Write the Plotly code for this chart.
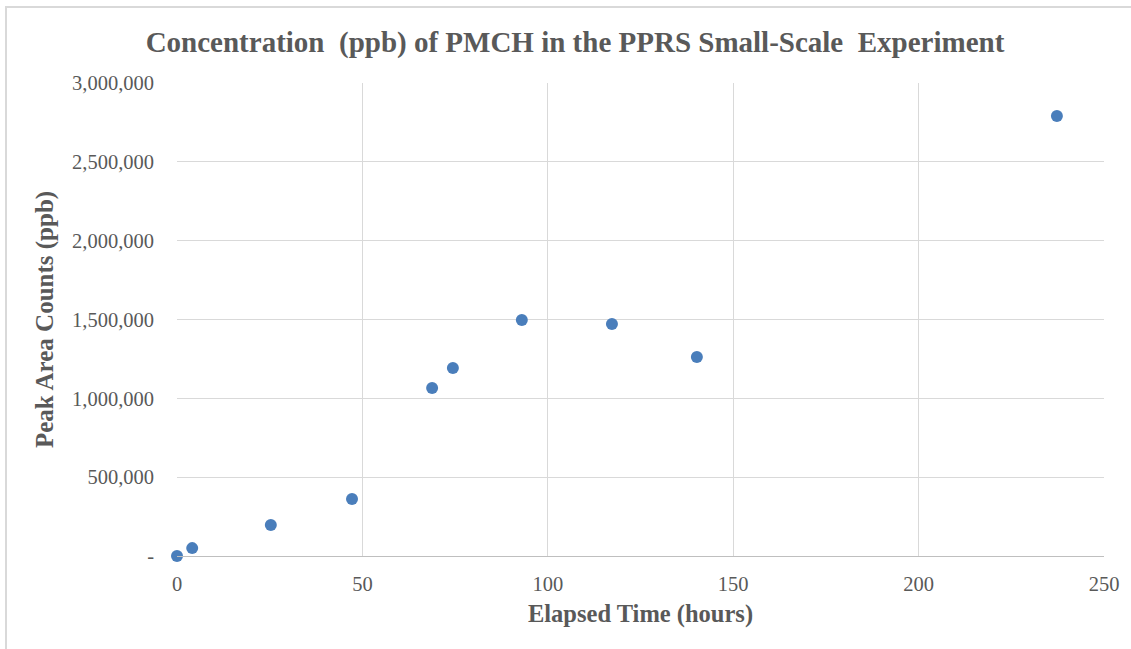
import plotly.graph_objects as go

elapsed_hours = [0, 4.1, 25.3, 47.2, 68.8, 74.4, 93.0, 117.3, 140.2, 237.3]
peak_counts = [0, 50000, 196000, 361000, 1065000, 1192000, 1497000, 1471000, 1262000, 2790000]

y_tick_vals = [0, 500000, 1000000, 1500000, 2000000, 2500000, 3000000]
y_tick_text = ["-", "500,000", "1,000,000", "1,500,000", "2,000,000", "2,500,000", "3,000,000"]
x_tick_vals = [0, 50, 100, 150, 200, 250]

FONT = "Liberation Serif"
GRAY = "#595959"

fig = go.Figure()
fig.add_trace(go.Scatter(
    x=elapsed_hours, y=peak_counts, mode="markers",
    marker=dict(color="#4A7EBB", size=12),
    cliponaxis=False, showlegend=False,
))

W, H = 1131, 649
L, R, T, B = 177, 27, 83, 93
pw, ph = W - L - R, H - T - B

fig.update_layout(
    width=W, height=H,
    margin=dict(l=L, r=R, t=T, b=B),
    paper_bgcolor="white", plot_bgcolor="white",
    font=dict(family=FONT, color=GRAY, size=20),
    title=dict(
        text="<b>Concentration\u00a0 (ppb) of PMCH in the PPRS Small-Scale\u00a0 Experiment</b>",
        x=575 / W, xref="container", xanchor="center",
        y=1 - 42 / H, yref="container", yanchor="middle",
        font=dict(size=29, color=GRAY, family=FONT),
    ),
    xaxis=dict(
        range=[0, 250], tickvals=x_tick_vals,
        showgrid=True, gridcolor="#d9d9d9", gridwidth=1,
        showline=True, linecolor="#bfbfbf", linewidth=1,
        zeroline=False, ticks="", ticklabelstandoff=9,
        title=dict(text="<b>Elapsed Time (hours)</b>", font=dict(size=24.5, color=GRAY, family=FONT), standoff=11),
        tickfont=dict(size=20.5, color=GRAY, family=FONT),
    ),
    yaxis=dict(
        range=[0, 3000000], tickvals=y_tick_vals, ticktext=y_tick_text,
        showgrid=True, gridcolor="#d9d9d9", gridwidth=1,
        showline=False, zeroline=False, ticks="", ticklabelstandoff=22,
        title=dict(text="<b>Peak Area Counts (ppb)</b>", font=dict(size=25, color=GRAY, family=FONT), standoff=11),
        tickfont=dict(size=20.5, color=GRAY, family=FONT),
    ),
)

# outer chart frame
fig.add_shape(
    type="rect", xref="paper", yref="paper",
    x0=(6 - L) / pw, x1=(W + 5 - L) / pw,
    y0=(H - B - (H + 5)) / ph, y1=(H - B - 7) / ph,
    line=dict(color="#d9d9d9", width=2), fillcolor="rgba(0,0,0,0)", layer="below",
)

fig.write_html("out.html")
